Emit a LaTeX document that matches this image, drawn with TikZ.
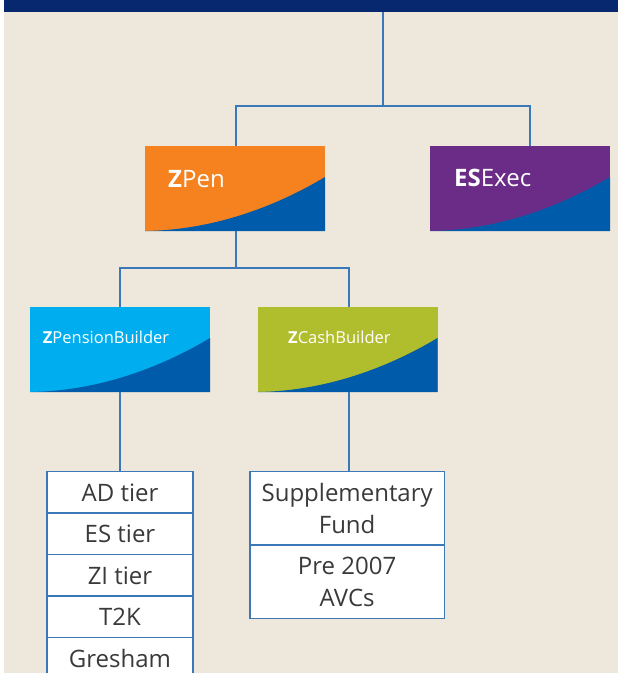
\documentclass[tikz,border=0pt]{standalone}
\usepackage{fontspec}
\setmainfont{Open Sans}
\usetikzlibrary{calc}
\definecolor{bg}{HTML}{EEE7DB}
\definecolor{navy}{HTML}{07276F}
\definecolor{zorange}{HTML}{F5821F}
\definecolor{zpurple}{HTML}{6A2C87}
\definecolor{zcyan}{HTML}{00AEEF}
\definecolor{zlime}{HTML}{B0BE2E}
\definecolor{swoosh}{HTML}{005BAA}
\definecolor{linec}{HTML}{3B78BA}
\definecolor{txt}{HTML}{3A3A3A}
\begin{document}
\begin{tikzpicture}[x=1pt,y=-1pt,
  card/.style={minimum width=180pt, minimum height=85pt, inner sep=0pt, outer sep=0pt, anchor=north west},
  link/.style={draw=linec, line width=1.8pt},
  cardtext/.style={anchor=base west, text=white, inner sep=0pt},
  bigtext/.style={font=\fontsize{24}{28}\selectfont},
  smalltext/.style={font=\fontsize{16.5}{20}\selectfont},
  cell/.style={draw=linec, line width=1.5pt, fill=white, anchor=north west, inner sep=0pt, outer sep=0pt,
    text=txt, align=center, font=\fontsize{24}{31.6}\selectfont},
  lcell/.style={cell, minimum width=145.6pt, minimum height=41.5pt},
  rcell/.style={cell, minimum width=194.3pt, minimum height=73.3pt}]
\useasboundingbox (0,0) rectangle (618,673);
\clip (0,0) rectangle (618,673);
\fill[white] (0,0) rectangle (618,673);
\fill[bg] (4,0) rectangle (618,673);
\node[fill=navy, minimum width=614pt, minimum height=12pt, inner sep=0pt, outer sep=0pt, anchor=north west] (bar) at (4,0) {};

% cards
\node[card, fill=zorange] (zpen) at (145,146) {};
\node[card, fill=zpurple] (esexec) at (430,146) {};
\node[card, fill=zcyan] (zpb) at (30,307) {};
\node[card, fill=zlime] (zcb) at (257.5,307) {};
\foreach \n in {zpen,esexec,zpb,zcb}
  \fill[swoosh] (\n.south west) .. controls ($(\n.south west)+(72,-1)$) and ($(\n.south east)+(-45,-27)$) .. ($(\n.south east)+(0,-54)$) -- (\n.south east) -- cycle;

\node[cardtext, bigtext] (zpent) at (168,187) {\textbf{Z}Pen};
\node[cardtext, bigtext] (esexect) at (454,186.7) {\textbf{ES}Exec};
\node[cardtext, smalltext] (zpbt) at (42.7,343) {\textbf{Z}PensionBuilder};
\node[cardtext, smalltext] (zcbt) at (288,343) {\textbf{Z}CashBuilder};

% lists
\node[lcell] (ad) at (47.2,471.7) {AD tier};
\node[lcell] (es) at (47.2,513.2) {ES tier};
\node[lcell] (zi) at (47.2,554.7) {ZI tier};
\node[lcell] (t2k) at (47.2,596.2) {T2K};
\node[lcell] (gre) at (47.2,637.7) {Gresham};
\node[rcell] (supp) at (250,471.7) {Supplementary\\Fund};
\node[rcell] (avc) at (250,545) {Pre 2007\\AVCs};

% connectors
\coordinate (j1) at (383,106);
\draw[link] (j1 |- bar.south) -- (j1);
\draw[link] ($(zpen.north)+(1,0)$) |- (j1) -| ($(esexec.north)+(10,0)$);
\draw[link] ($(zpen.south)+(1,0)$) -- ++(0,37) coordinate (j2);
\draw[link] (zpb.north) |- (j2) -| ($(zcb.north)+(1.5,0)$);
\draw[link] (zpb.south) -- (ad.north);
\coordinate (k) at ($(zcb.south)+(1.5,0)$);
\draw[link] (k) -- (k |- supp.north);
\end{tikzpicture}
\end{document}
